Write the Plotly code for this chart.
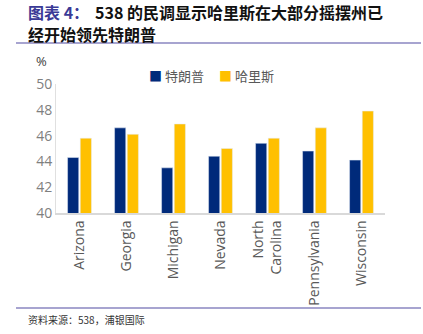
import plotly.graph_objects as go

states = ["Arizona", "Georgia", "Michigan", "Nevada", "North<br>Carolina", "Pennsylvania", "Wisconsin"]
trump = [44.3, 46.6, 43.5, 44.4, 45.4, 44.8, 44.1]
harris = [45.8, 46.1, 46.9, 45.0, 45.8, 46.6, 47.9]
y_ticks = [40, 42, 44, 46, 48, 50]
series_names = ["特朗普", "哈里斯"]
series_colors = ["#002A7A", "#FFC000"]

L, R, T, B = 56, 38, 84, 121
W, H = 423, 334
ph = H - T - B
pw = W - L - R

def py(p):
    return (H - B - p) / ph

def px(p):
    return (p - L) / pw

fig = go.Figure()
fig.add_trace(go.Bar(x=states, y=trump, name=series_names[0], marker_color=series_colors[0]))
fig.add_trace(go.Bar(x=states, y=harris, name=series_names[1], marker_color=series_colors[1]))

fig.update_layout(
    width=W, height=H,
    margin=dict(l=L, r=R, t=T, b=B),
    paper_bgcolor="white", plot_bgcolor="white",
    barmode="group", bargap=0.46, bargroupgap=0.12,
    font=dict(family="Noto Sans CJK SC", color="#595959"),
    showlegend=False,
)
fig.update_yaxes(range=[40, 50], tickvals=y_ticks, showgrid=False, zeroline=False,
                 showline=True, linecolor="#E0E0E0", linewidth=1,
                 tickfont=dict(family="Open Sans", size=14, color="#7F7F7F"), ticks="")
fig.update_xaxes(showgrid=False, showline=True, linecolor="#D9D9D9", linewidth=1.5,
                 tickangle=-90, ticks="",
                 tickfont=dict(family="Open Sans", size=14, color="#595959"))

# manual legend
leg_x = [147, 217]
for name, col, lx in zip(series_names, series_colors, leg_x):
    fig.add_annotation(
        text=f"<span style='color:{col}'>■</span> {name}",
        xref="paper", yref="paper", x=px(lx), y=py(75), xanchor="left", yanchor="middle",
        showarrow=False, font=dict(size=13, color="#595959", family="Noto Sans CJK SC"))

fig.add_annotation(text="%", xref="paper", yref="paper", x=px(41), y=py(61),
                   xanchor="center", yanchor="middle",
                   showarrow=False, font=dict(size=13, color="#404040", family="Open Sans"))

title_font = dict(size=16, family="Noto Sans CJK SC")
fig.add_annotation(
    text="<b>图表 4：</b>",
    xref="paper", yref="paper", x=px(26), y=py(12.5), xanchor="left", yanchor="middle",
    showarrow=False, font=dict(color="#3A3A96", **title_font))
fig.add_annotation(
    text="<b>538 的民调显示哈里斯在大部分摇摆州已</b>",
    xref="paper", yref="paper", x=px(93), y=py(12.5), xanchor="left", yanchor="middle",
    showarrow=False, font=dict(color="#111111", **title_font))
fig.add_annotation(
    text="<b>经开始领先特朗普</b>",
    xref="paper", yref="paper", x=px(26), y=py(34), xanchor="left", yanchor="middle",
    showarrow=False, font=dict(color="#111111", **title_font))
fig.add_annotation(
    text="资料来源：538，浦银国际",
    xref="paper", yref="paper", x=px(26), y=py(319), xanchor="left", yanchor="middle",
    showarrow=False, font=dict(size=10, color="#333333", family="Noto Sans CJK SC"))

fig.add_shape(type="line", xref="paper", yref="paper", x0=px(16), x1=px(421), y0=py(43), y1=py(43),
              line=dict(color="#8A86C0", width=1.5))
fig.add_shape(type="line", xref="paper", yref="paper", x0=px(16), x1=px(421), y0=py(308), y1=py(308),
              line=dict(color="#8A86C0", width=1.5))

fig.write_html("out.html")
